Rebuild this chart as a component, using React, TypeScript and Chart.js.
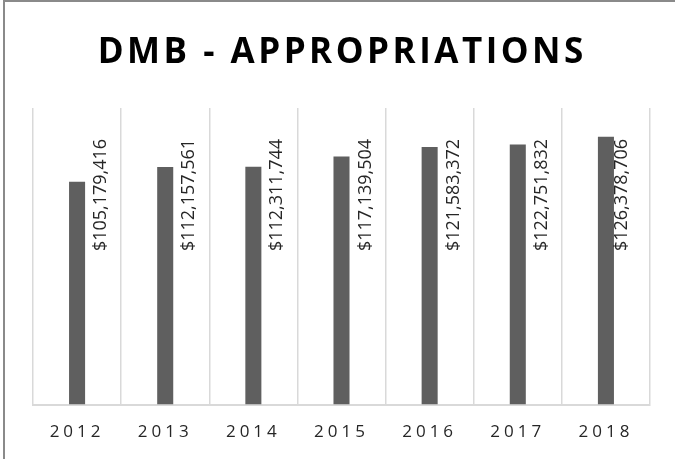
import React, { useEffect, useRef } from "react";
import { Chart, registerables } from "chart.js";

Chart.register(...registerables);

const TITLE = "DMB - APPROPRIATIONS";
const YEARS = ["2012", "2013", "2014", "2015", "2016", "2017", "2018"];
const APPROPRIATIONS = [105179416, 112157561, 112311744, 117139504, 121583372, 122751832, 126378706];
const Y_MAX = 140000000;

const fmt = (v: number) => "$" + v.toLocaleString("en-US");

const textPlugin = {
  id: "excelText",
  beforeDraw(chart: any) {
    chart.ctx.letterSpacing = "4px";
  },
  afterDatasetsDraw(chart: any) {
    const ctx = chart.ctx;
    const meta = chart.getDatasetMeta(0);
    const area = chart.chartArea;
    ctx.save();
    ctx.letterSpacing = "0px";
    ctx.font = "18px 'Open Sans'";
    ctx.fillStyle = "#262626";
    ctx.textAlign = "center";
    ctx.textBaseline = "middle";
    meta.data.forEach((bar: any, i: number) => {
      const x = Math.min(bar.x + 24, area.right - 28);
      const y = area.top + 87;
      ctx.save();
      ctx.translate(x, y);
      ctx.rotate(-Math.PI / 2);
      ctx.fillText(fmt(APPROPRIATIONS[i]), 0, 0);
      ctx.restore();
    });
    ctx.restore();
  },
  afterDraw(chart: any) {
    const ctx = chart.ctx;
    ctx.save();
    ctx.font = "bold 35px 'Open Sans'";
    ctx.letterSpacing = "3.5px";
    ctx.fillStyle = "#000000";
    ctx.textBaseline = "alphabetic";
    ctx.textAlign = "left";
    const w = ctx.measureText(TITLE).width - 3.5;
    ctx.fillText(TITLE, 340.5 - w / 2, 63);
    ctx.restore();
    ctx.letterSpacing = "0px";
  },
};

export default function App() {
  const ref = useRef<HTMLCanvasElement>(null);
  useEffect(() => {
    document.body.style.margin = "0";
    const chart = new Chart(ref.current!, {
      type: "bar",
      data: {
        labels: YEARS,
        datasets: [
          {
            data: APPROPRIATIONS,
            backgroundColor: "#5f5f5f",
            borderWidth: 0,
            categoryPercentage: 1,
            barPercentage: 0.182,
          },
        ],
      },
      options: {
        responsive: false,
        animation: false,
        layout: { padding: { left: 33, right: 25, top: 108, bottom: 0 } },
        plugins: { legend: { display: false }, tooltip: { enabled: false }, title: { display: false } },
        scales: {
          x: {
            grid: { display: true, color: "#d9d9d9", lineWidth: 1.5, drawTicks: false, offset: true },
            border: { display: true, color: "#d9d9d9", width: 2 },
            ticks: { color: "#262626", font: { family: "'Open Sans'", size: 17 }, padding: 17 },
          },
          y: { display: false, min: 0, max: Y_MAX },
        },
      },
      plugins: [textPlugin],
    });
    return () => chart.destroy();
  }, []);
  return (
    <div style={{ position: "fixed", left: 0, top: 0, width: 675, height: 459, background: "#fff", overflow: "hidden" }}>
      <div
        style={{
          position: "absolute",
          left: 3,
          top: 0,
          width: 700,
          height: 500,
          borderLeft: "2px solid #8a8a8a",
          borderTop: "2px solid #8a8a8a",
        }}
      />
      <canvas ref={ref} width={675} height={459} style={{ position: "absolute", left: 0, top: 0 }} />
    </div>
  );
}
